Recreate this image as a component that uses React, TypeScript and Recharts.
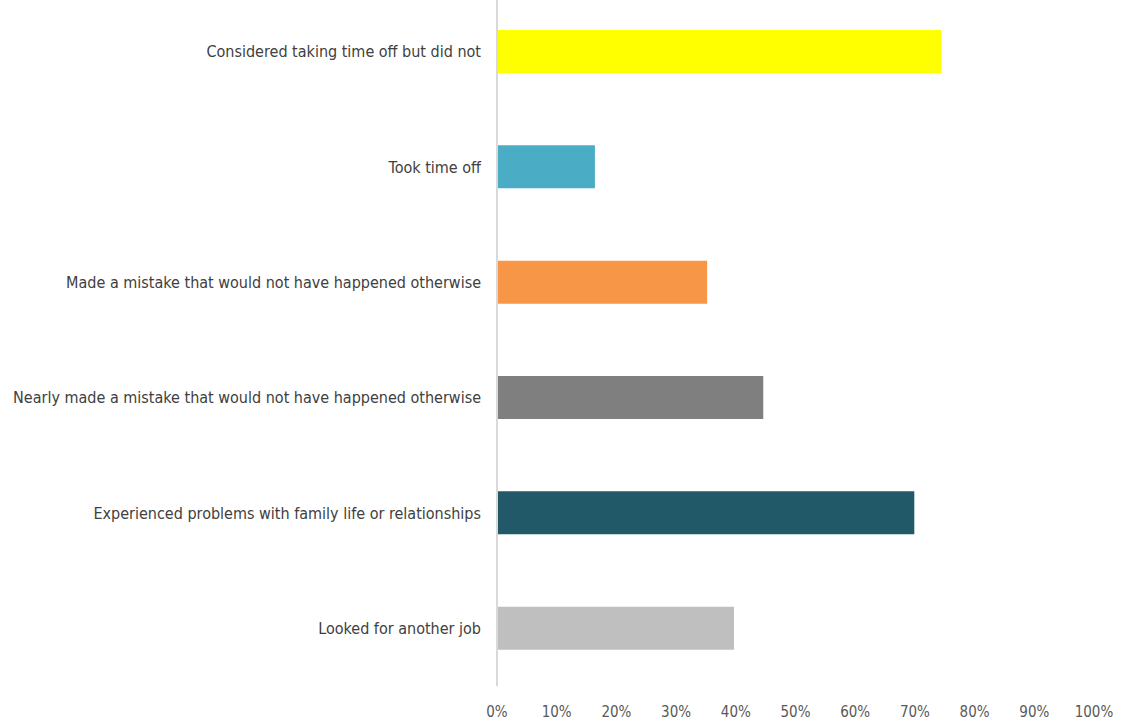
import { BarChart, Bar, XAxis, YAxis, Cell } from "recharts";

const categories = [
  "Considered taking time off but did not",
  "Took time off",
  "Made a mistake that would not have happened otherwise",
  "Nearly made a mistake that would not have happened otherwise",
  "Experienced problems with family life or relationships",
  "Looked for another job",
];

const values = [74.4, 16.4, 35.2, 44.6, 69.9, 39.7];

const colors = ["#FFFF00", "#4BACC6", "#F79646", "#7F7F7F", "#215968", "#BFBFBF"];

const xTicks = [0, 10, 20, 30, 40, 50, 60, 70, 80, 90, 100];

const font = "'DejaVu Sans Condensed', 'Liberation Sans', sans-serif";

const App = () => {
  const data = categories.map((name, i) => ({ name, value: values[i] }));

  return (
    <div style={{ position: "absolute", top: -6, left: 0 }}>
      <BarChart
        width={1125}
        height={726}
        data={data}
        layout="vertical"
        margin={{ top: 0, right: 31, bottom: 0, left: 0 }}
        barSize={43}
      >
        <XAxis
          type="number"
          domain={[0, 100]}
          ticks={xTicks}
          tickFormatter={(v: number) => `${v}%`}
          axisLine={false}
          tickLine={false}
          height={34}
          tickMargin={14}
          tick={{ fontSize: 15, fill: "#595959", fontFamily: font }}
        />
        <YAxis
          type="category"
          dataKey="name"
          width={497}
          axisLine={{ stroke: "#D9D9D9", strokeWidth: 2 }}
          tickLine={false}
          tickMargin={10}
          tick={{ fontSize: 16, fill: "#404040", fontFamily: font }}
        />
        <Bar dataKey="value" isAnimationActive={false}>
          {data.map((d, i) => (
            <Cell key={d.name} fill={colors[i]} />
          ))}
        </Bar>
      </BarChart>
    </div>
  );
};

export default App;
